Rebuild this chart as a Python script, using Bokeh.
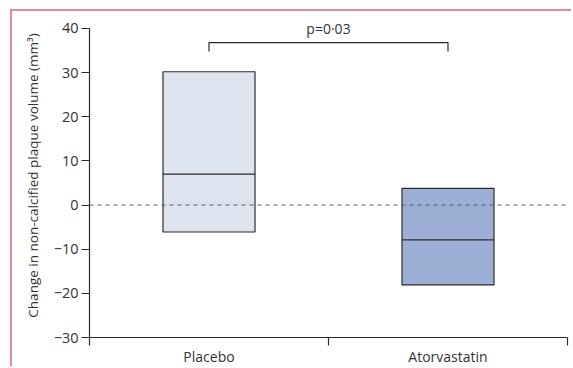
from bokeh.plotting import figure
from bokeh.models import Range1d, FixedTicker, Span, Label
from bokeh.embed import file_html
from bokeh.resources import INLINE
import numpy as np

# Data
categories = ["Placebo", "Atorvastatin"]
q_low = [-6.1, -18.1]
medians = [7.0, -7.9]
q_high = [30.2, 3.8]
fills = ["#dde3ef", "#9eafd6"]
p_label = "p=0·03"
y_ticks = [-30, -20, -10, 0, 10, 20, 30, 40]

FONT = "Open Sans"
TXT = "#333333"
AX = "#2b2b2b"

centers = np.arange(len(categories)) + 0.5
box_w = 0.385

# y range extends a little above the axis (40) to leave room for the p-value text
p = figure(width=561, height=357, output_backend="svg", toolbar_location=None,
           x_range=Range1d(0, len(categories)), y_range=Range1d(-30, 43.39),
           min_border_left=77, min_border_right=6, min_border_top=2, min_border_bottom=30)
p.outline_line_color = None
p.xgrid.visible = False
p.ygrid.visible = False
p.background_fill_color = "white"
p.border_fill_color = "white"

# zero line
p.add_layout(Span(location=0, dimension="width", line_color="#4d6272",
                  line_dash="4 4", line_width=1))

# boxes
p.vbar(x=centers, width=box_w, bottom=q_low, top=q_high, fill_color=fills,
       line_color=AX, line_width=1.2)
p.segment(x0=centers - box_w / 2, x1=centers + box_w / 2, y0=medians, y1=medians,
          line_color=AX, line_width=1.2)

# significance bracket
top_y = 36.8
leg_y = 34.8
p.line(x=[centers[0], centers[0], centers[1], centers[1]],
       y=[leg_y, top_y, top_y, leg_y], line_color=AX, line_width=1.2)
p.add_layout(Label(x=float(centers.mean()), y=40.0, text=p_label, text_align="center",
                   text_baseline="middle", text_font=FONT,
                   text_font_size="14px", text_color=TXT))

# y axis
ya = p.yaxis[0]
ya.ticker = FixedTicker(ticks=y_ticks)
ya.bounds = (min(y_ticks), max(y_ticks))
ya.major_label_overrides = {t: (str(t).replace("-", "−")) for t in y_ticks}
ya.axis_label = "Change in non-calcified plaque volume (mm³)"
ya.axis_label_text_font = FONT
ya.axis_label_text_font_style = "normal"
ya.axis_label_text_font_size = "13.5px"
ya.axis_label_text_color = TXT
ya.axis_label_standoff = 9
ya.major_label_text_font = FONT
ya.major_label_text_font_size = "14.5px"
ya.major_label_text_color = TXT
ya.major_label_standoff = 3
ya.major_tick_out = 8
ya.major_tick_in = 0
ya.minor_tick_out = 0
ya.minor_tick_in = 0
ya.axis_line_color = AX
ya.major_tick_line_color = AX
ya.axis_line_width = 1.2
ya.major_tick_line_width = 1.2

# x axis: labels at centres, boundary ticks as minor ticks
xa = p.xaxis[0]
xa.ticker = FixedTicker(ticks=list(centers),
                        minor_ticks=list(range(len(categories) + 1)))
xa.major_label_overrides = {float(c): n for c, n in zip(centers, categories)}
xa.major_label_text_font = FONT
xa.major_label_text_font_size = "14px"
xa.major_label_text_color = TXT
xa.major_label_standoff = 1
xa.major_tick_out = 0
xa.major_tick_in = 0
xa.minor_tick_out = 8
xa.minor_tick_in = 0
xa.axis_line_color = AX
xa.minor_tick_line_color = AX
xa.axis_line_width = 1.2
xa.minor_tick_line_width = 1.2

p.styles = {"margin-left": "10px", "margin-top": "9px",
            "border-top": "2px solid #de8aa0", "border-left": "2px solid #de8aa0"}

open("out.html", "w").write(file_html(p, INLINE))
